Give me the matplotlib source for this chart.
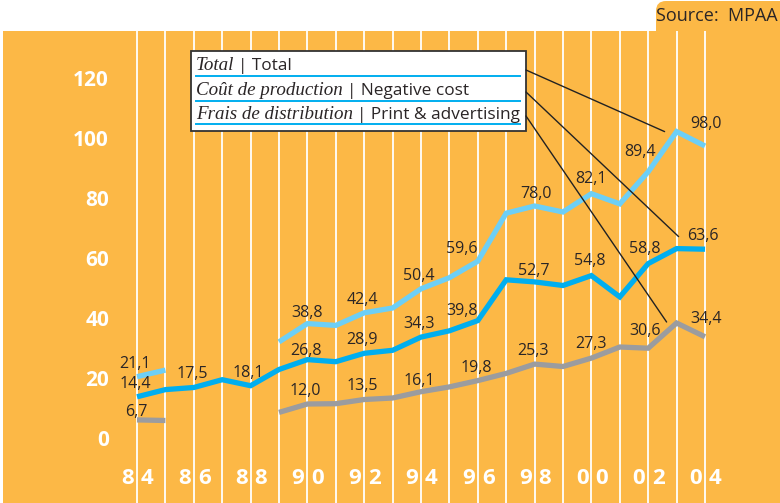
import numpy as np
import matplotlib
matplotlib.use('Agg')
from matplotlib import pyplot as plt
from matplotlib.patches import Rectangle, FancyBboxPatch, ConnectionPatch
from matplotlib.transforms import IdentityTransform, offset_copy

years = np.arange(1984, 2005)
total = [21.1, 23.3, np.nan, np.nan, np.nan, 32.7, 38.8, 38.2, 42.4, 44.0, 50.4,
         54.1, 59.6, 75.6, 78.0, 76.0, 82.1, 78.7, 89.4, 102.8, 98.0]
negative_cost = [14.4, 16.8, 17.5, 20.1, 18.1, 23.5, 26.8, 26.1, 28.9, 29.9, 34.3,
                 36.4, 39.8, 53.4, 52.7, 51.5, 54.8, 47.7, 58.8, 63.8, 63.6]
print_advertising = [6.7, 6.5, np.nan, np.nan, np.nan, 9.2, 12.0, 12.1, 13.5, 14.0, 16.1,
                     17.7, 19.8, 22.2, 25.3, 24.5, 27.3, 31.0, 30.6, 39.0, 34.4]
labelled_years = list(range(1984, 2005, 2))
y_ticks = [0, 20, 40, 60, 80, 100, 120]
legend_fr = ['Total', 'Coût de production', 'Frais de distribution']
legend_en = ['Total', 'Negative cost', 'Print & advertising']
source_text = 'Source:  MPAA'

ORANGE = '#FCB846'
TEXT = '#2a2526'
W, H = 780, 503

series = [
    ('total', total, '#6DCFF6'),
    ('negative', negative_cost, '#00AEEF'),
    ('print', print_advertising, '#9B9C9F'),
]

# label nudges in pixels (dx, dy) where the default one does not fit
label_offsets = {
    ('total', 1990): (0, 11), ('total', 1996): (-16, 12), ('total', 1998): (1, 12),
    ('total', 2000): (0, 15), ('total', 2002): (-8, 20), ('total', 2004): (1, 22),
    ('negative', 1990): (-1, 9), ('negative', 1996): (-16, 10), ('negative', 1998): (-1, 11),
    ('negative', 2000): (-2, 15), ('negative', 2002): (-3, 15),
    ('print', 1984): (-1, 8), ('print', 1994): (-2, 11), ('print', 2000): (0, 14),
    ('print', 2002): (-3, 17), ('print', 2004): (1, 18),
}

fig = plt.figure(figsize=(W / 100, H / 100), dpi=100)
fig.patch.set_facecolor('white')

# orange panel: 1984 sits at x=137px, 28.4 px per year; 0 at y=440px, 3 px per unit
ax = fig.add_axes([3 / W, 0, (W - 3) / W, (H - 31) / H])
ax.set_facecolor(ORANGE)
ax.set_xlim(1984 - (137 - 3) / 28.4, 1984 + (W - 137) / 28.4)
ax.set_ylim(-(H - 440) / 3.0, (440 - 31) / 3.0)
for s in ax.spines.values():
    s.set_visible(False)
ax.set_xticks([])
ax.set_yticks([])

for yr in years:
    ax.axvline(yr, color='white', lw=1.3, zorder=1)

for name, values, color in series:
    ax.plot(years, values, color=color, lw=3.8, zorder=3,
            solid_joinstyle='miter', solid_capstyle='butt')
    for yr, v in zip(years, values):
        if yr not in labelled_years or np.isnan(v):
            continue
        dx, dy = label_offsets.get((name, yr), (-2, 13))
        ax.annotate(f'{v:.1f}'.replace('.', ','), (yr, v), xytext=(dx, dy),
                    textcoords='offset pixels', ha='center', va='center',
                    fontsize=11.5, color=TEXT, family='Open Sans', zorder=4)

for t in y_ticks:
    ax.annotate(str(t), (1984, t), xytext=(-28, -1), textcoords='offset pixels',
                ha='right', va='center', fontsize=15, fontweight='bold',
                color='white', family='Open Sans')

for yr in labelled_years:
    digits = str(yr)[2:]
    ax.annotate(digits[0], (yr, 0), xytext=(-3, -39), textcoords='offset pixels',
                ha='right', va='center', fontsize=16, fontweight='bold',
                color='white', family='Open Sans')
    ax.annotate(digits[1], (yr, 0), xytext=(4, -39), textcoords='offset pixels',
                ha='left', va='center', fontsize=16, fontweight='bold',
                color='white', family='Open Sans')

pix = IdentityTransform()

# source tab
fig.add_artist(FancyBboxPatch((656, H - 45), 150, 44, boxstyle='round,pad=0,rounding_size=10',
                              transform=pix, facecolor=ORANGE, edgecolor='none', zorder=0))
fig.text(W - 2, H - 16, source_text, transform=pix, ha='right', va='center',
         fontsize=13, color=TEXT, family='Open Sans')

# legend box
fig.add_artist(Rectangle((191, H - 131), 335, 80, transform=pix, facecolor='white',
                         edgecolor='#333333', lw=1.3, zorder=5))
baselines = [70, 95, 119]
underlines = [76, 100.5, 124]
fr_texts = []
for fr, base in zip(legend_fr, baselines):
    fr_texts.append(fig.text(196, H - base, fr, transform=pix, ha='left', va='baseline',
                             fontsize=13.7, style='italic', family='Liberation Serif',
                             color=TEXT, zorder=6))
for yl in underlines:
    fig.add_artist(plt.Line2D([196, 520], [H - yl, H - yl], transform=pix,
                              color='#00AEEF', lw=1.4, zorder=6))

fig.canvas.draw()
renderer = fig.canvas.get_renderer()
for t, en, base in zip(fr_texts, legend_en, baselines):
    bb = t.get_window_extent(renderer)
    fig.text(bb.x1 + 4, H - base, '| ' + en, transform=pix, ha='left', va='baseline',
             fontsize=12.4, family='Open Sans', color=TEXT, zorder=6)

# leader lines from the legend to the 2003 points
leader_starts = [70, 92, 116]
leader_nudges = [(-12, 0), (2, 12), (-10, 1)]
for (name, values, color), ys, (dx, dy) in zip(series, leader_starts, leader_nudges):
    end_tr = offset_copy(ax.transData, fig=fig, x=dx, y=dy, units='dots')
    con = ConnectionPatch(xyA=(526, H - ys), coordsA=pix,
                          xyB=(2003, values[list(years).index(2003)]), coordsB=end_tr,
                          color='#222222', lw=1.0, zorder=5)
    fig.add_artist(con)

fig.savefig('out.png', dpi=100, facecolor='white')
